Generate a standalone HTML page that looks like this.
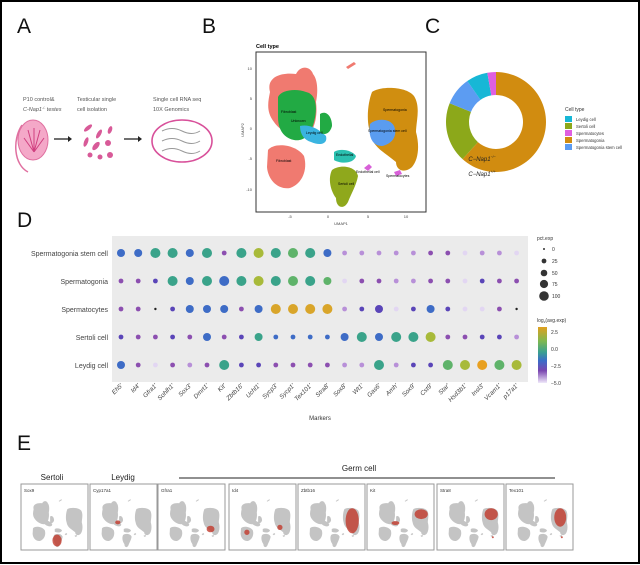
<!DOCTYPE html>
<html><head><meta charset="utf-8"><style>
html,body{margin:0;padding:0;background:#fff}
svg{display:block;font-family:"Liberation Sans",sans-serif}
</style></head><body>
<svg id="s" width="640" height="565" viewBox="0 0 640 565" xmlns="http://www.w3.org/2000/svg">
<rect x="1" y="1" width="638" height="562" fill="#fff" stroke="#000" stroke-width="2"/>
<defs>
<g id="umap">
 <path d="M14,40 C10,25 25,20 40,22 C45,12 55,15 57,22 C62,28 62,40 60,50 C62,65 58,80 50,85 C40,88 25,80 18,70 C10,60 12,50 14,40Z" fill="#f07a70"/>
 <path d="M22,45 C25,38 40,36 50,40 C60,42 62,55 58,70 C55,82 48,90 38,88 C28,86 22,78 22,65Z" fill="#22aa44"/>
 <path d="M44,74 C52,72 62,76 70,84 C72,92 64,94 55,90 C48,88 44,82 44,74Z" fill="#3ab4e0"/>
 <path d="M64,62 C70,58 76,64 76,74 C74,82 68,84 64,80Z" fill="#22aa44"/>
 <path d="M12,98 C18,90 40,92 48,104 C52,118 46,132 34,136 C22,138 12,128 11,115Z" fill="#f07a70"/>
 <path d="M78,100 C84,96 96,98 100,104 C98,112 84,112 78,108Z" fill="#2bc0b0"/>
 <path d="M76,118 C84,112 100,114 102,124 C100,134 96,140 92,150 C88,158 80,156 80,146 C74,138 72,126 76,118Z" fill="#8fa81c"/>
 <path d="M116,40 C124,34 150,34 158,44 C165,55 160,70 160,80 C164,95 162,108 156,115 C148,122 140,118 140,110 C128,100 116,95 114,80 C110,68 112,50 116,40Z" fill="#d08e10"/>
 <path d="M114,72 C120,66 134,66 138,74 C142,84 136,92 126,94 C116,94 112,84 114,72Z" fill="#5a9cf0"/>
 <path d="M108,116 l5,-4 l3,3 l-4,4Z M138,120 l6,-2 l2,4 l-6,2Z" fill="#d860d8"/>
 <path d="M90,15 l8,-5 l2,2 l-8,5Z" fill="#f07a70"/>
</g>
<g id="mini">
 <path d="M14,40 C10,25 25,20 40,22 C45,12 55,15 57,22 C62,28 62,40 60,50 C62,65 58,80 50,85 C40,88 25,80 18,70 C10,60 12,50 14,40Z M44,74 C52,72 62,76 70,84 C72,92 64,94 55,90 C48,88 44,82 44,74Z M64,62 C70,58 76,64 76,74 C74,82 68,84 64,80Z M12,98 C18,90 40,92 48,104 C52,118 46,132 34,136 C22,138 12,128 11,115Z M78,100 C84,96 96,98 100,104 C98,112 84,112 78,108Z M76,118 C84,112 100,114 102,124 C100,134 96,140 92,150 C88,158 80,156 80,146 C74,138 72,126 76,118Z M116,40 C124,34 150,34 158,44 C165,55 160,70 160,80 C164,95 162,108 156,115 C148,122 140,118 140,110 C128,100 116,95 114,80 C110,68 112,50 116,40Z M108,116 l5,-4 l3,3 l-4,4Z M138,120 l6,-2 l2,4 l-6,2Z M90,15 l8,-5 l2,2 l-8,5Z" fill="#c4c4c4"/>
</g>
<linearGradient id="cb" x1="0" y1="0" x2="0" y2="1">
 <stop offset="0" stop-color="#e0a020"/><stop offset="0.25" stop-color="#7fb850"/><stop offset="0.45" stop-color="#3aa090"/><stop offset="0.6" stop-color="#3a6cc8"/><stop offset="0.78" stop-color="#7a46b0"/><stop offset="1" stop-color="#efe8fa"/>
</linearGradient>
</defs>
<g font-size="21" fill="#111">
<text x="17" y="33">A</text><text x="202" y="33">B</text><text x="425" y="33">C</text><text x="17" y="227">D</text><text x="17" y="450">E</text>
</g>
<g font-size="5.5" fill="#555">
<text x="23" y="101">P10 control&amp;</text><text x="23" y="111" font-style="italic">C-Nap1<tspan font-size="3.5" dy="-2">-/-</tspan><tspan dy="2"> testes</tspan></text>
<text x="77" y="101">Testicular single</text><text x="77" y="111">cell isolation</text>
<text x="153" y="101">Single cell RNA seq</text><text x="153" y="111">10X Genomics</text>
</g>
<g>
<ellipse cx="33" cy="140" rx="15" ry="20" fill="#f4a8c8" stroke="#e070a0"/>
<path d="M22,125 C12,140 14,165 28,172" fill="none" stroke="#e070a0" stroke-width="1.5"/>
<path d="M34,128 l0,24 M28,130 l6,22 M40,130 l-6,22 M24,138 l10,14 M44,138 l-10,14" stroke="#d04080" stroke-width="1"/>
<path d="M54,139 h15" stroke="#222" stroke-width="1.3"/><path d="M68,136 l4,3 l-4,3z" fill="#222"/>
<path d="M124,139 h15" stroke="#222" stroke-width="1.3"/><path d="M138,136 l4,3 l-4,3z" fill="#222"/>
<g fill="#d85a98">
<ellipse cx="88" cy="128" rx="5" ry="2" transform="rotate(-40 88 128)"/><ellipse cx="99" cy="134" rx="5" ry="2" transform="rotate(-60 99 134)"/><ellipse cx="110" cy="130" rx="4" ry="2" transform="rotate(-70 110 130)"/><ellipse cx="86" cy="142" rx="5" ry="2" transform="rotate(-70 86 142)"/><ellipse cx="96" cy="146" rx="5" ry="2.5" transform="rotate(-50 96 146)"/><circle cx="108" cy="143" r="3"/><circle cx="90" cy="155" r="2.5"/><circle cx="100" cy="157" r="2.5"/><circle cx="110" cy="155" r="3"/>
</g>
<ellipse cx="182" cy="141" rx="30" ry="21" fill="none" stroke="#d8509a" stroke-width="1.6"/>
<path d="M162,131 q10,-5 20,0 t18,0 M162,141 q10,-5 20,0 t18,0 M162,151 q10,-5 20,0 t18,0" fill="none" stroke="#999" stroke-width="1"/>
</g>
<text x="256" y="48" font-size="5.5" font-weight="bold">Cell type</text>
<g transform="translate(256,52)"><use href="#umap"/>
<g font-size="3.5" fill="#000"><text x="25" y="61">Fibroblast</text><text x="35" y="70">Unknown</text><text x="50" y="82">Leydig cell</text><text x="20" y="110">Fibroblast</text><text x="80" y="104">Endothelial</text><text x="82" y="133">Sertoli cell</text><text x="127" y="59">Spermatogonia</text><text x="112" y="80">Spermatogonia stem cell</text><text x="100" y="121">Endothelial cell</text><text x="130" y="125">Spermatocytes</text></g>
</g>
<rect x="256" y="52" width="170" height="160" fill="none" stroke="#333" stroke-width="1"/>
<g font-size="4" fill="#444" text-anchor="end"><text x="252" y="70">10</text><text x="252" y="100">5</text><text x="252" y="130">0</text><text x="252" y="160">-5</text><text x="252" y="191">-10</text></g>
<g font-size="4" fill="#444" text-anchor="middle"><text x="290" y="218">-5</text><text x="328" y="218">0</text><text x="368" y="218">5</text><text x="406" y="218">10</text><text x="341" y="225">UMAP1</text></g>
<text font-size="4" fill="#444" transform="translate(244,130) rotate(-90)" text-anchor="middle">UMAP2</text>
<g id="donut"></g>
<g font-size="6" font-style="italic" fill="#222" text-anchor="middle"><text x="482" y="161">C−Nap1<tspan font-size="3.5" dy="-3">−/−</tspan></text><text x="482" y="176">C−Nap1<tspan font-size="3.5" dy="-3">+/+</tspan></text></g>
<g font-size="4.2" fill="#333"><text x="565" y="111" font-size="5">Cell type</text>
<rect x="565" y="116" width="7" height="6" fill="#17b7d6"/><text x="576" y="121">Leydig cell</text>
<rect x="565" y="123" width="7" height="6" fill="#8ca81a"/><text x="576" y="128">Sertoli cell</text>
<rect x="565" y="130" width="7" height="6" fill="#df5fe0"/><text x="576" y="135">Spermatocytes</text>
<rect x="565" y="137" width="7" height="6" fill="#d18c10"/><text x="576" y="142">Spermatogonia</text>
<rect x="565" y="144" width="7" height="6" fill="#5c9cf2"/><text x="576" y="149">Spermatogonia stem cell</text></g>
<rect x="112" y="236" width="416" height="146" fill="#ebebeb"/>
<g id="dots"></g>
<g font-size="7" fill="#444" text-anchor="end">
<text x="108" y="256">Spermatogonia stem cell</text><text x="108" y="284">Spermatogonia</text><text x="108" y="312">Spermatocytes</text><text x="108" y="340">Sertoli cell</text><text x="108" y="368">Leydig cell</text></g>
<g id="xl" font-size="6.3" fill="#444" font-style="italic"></g>
<text x="320" y="420" font-size="6" fill="#333" text-anchor="middle">Markers</text>
<g font-size="5" fill="#333"><text x="537" y="240">pct.exp</text>
<circle cx="544" cy="249" r="1"/><circle cx="544" cy="261" r="2.4"/><circle cx="544" cy="273" r="3.3"/><circle cx="544" cy="284" r="4.1"/><circle cx="544" cy="296" r="4.8"/>
<text x="552" y="251">0</text><text x="552" y="263">25</text><text x="552" y="275">50</text><text x="552" y="286">75</text><text x="552" y="298">100</text>
<text x="537" y="322">log<tspan font-size="3" dy="1">2</tspan><tspan dy="-1">(avg.exp)</tspan></text>
<rect x="538" y="327" width="9" height="56" fill="url(#cb)"/>
<text x="551" y="334">2.5</text><text x="551" y="351">0.0</text><text x="551" y="368">−2.5</text><text x="551" y="385">−5.0</text></g>
<g font-size="8" fill="#222" text-anchor="middle"><text x="52" y="480">Sertoli</text><text x="123" y="480">Leydig</text><text x="359" y="471">Germ cell</text></g>
<path d="M179,478 H555" stroke="#222" stroke-width="1"/>
<g id="mini_boxes"></g>
</svg>
<script>
const NS="http://www.w3.org/2000/svg";
function el(t,a,p){const e=document.createElementNS(NS,t);for(const k in a)e.setAttribute(k,a[k]);p.appendChild(e);return e;}
const d=document.getElementById('donut');const cx=496,cy=122,R=50,r=27;
const sl=[[0,222,'#d18c10'],[222,292,'#8ca81a'],[292,325,'#5c9cf2'],[325,350,'#17b7d6'],[350,360,'#df5fe0']];
function pt(a,rr){const t=(a-90)*Math.PI/180;return [cx+rr*Math.cos(t),cy+rr*Math.sin(t)];}
sl.forEach(([a,b,c])=>{const l=b-a>180?1:0;const p1=pt(a,R),p2=pt(b,R),p3=pt(b,r),p4=pt(a,r);
el('path',{d:`M${p1}A${R},${R} 0 ${l} 1 ${p2}L${p3}A${r},${r} 0 ${l} 0 ${p4}Z`,fill:c},d);});
const C={B:'#3e6cc6',T:'#3aa38a',G:'#5fb36a',Y:'#a8ba3a',D:'#d9a52a',O:'#e8a020',P:'#8c4fb0',I:'#5a45b8',L:'#b890d8',V:'#e2d6f2',K:'#222',N:'none'};
const S={L:5,M:4,s:2.4,t:1.2};
const rows=[
"BM BM TL TL BM TL Ps TL YL TL GL TL BM Ls Ls Ls Ls Ls Ps Ps Vs Ls Ls Vs",
"Ps Ps Is TL BM TL BL TL YL TL GL TL GM Vs Ps Ps Ls Ls Ps Ps Vs Is Ps Ps",
"Ps Ps Kt Is BM BM BM Ps BM DL DL DL DL Ls Is IM Vs Is BM Is Vs Vs Ps Kt",
"Is Ps Ps Is Ps BM Ps Is TM Bs Bs Bs Bs BM TL BM TL TL YL Ps Ps Is Is Ls",
"BM Ps Vs Ps Ls Ps TL Is Is Ps Ps Ps Ps Ls Ls TL Ls Is Is GL YL OL GL YL"];
const SP=17.2;
const dg=document.getElementById('dots');
rows.forEach((row,i)=>{row.split(' ').forEach((c,j)=>{el('circle',{cx:121+SP*j,cy:253+28*i,r:S[c.slice(1)],fill:C[c[0]]},dg);});});
const names=["Eh5","Id4","Gfra1","Sohlh1","Sox3","Dmrt1","Kit","Zbtb16","Uchl1","Sycp3","Sycp1","Tex101","Stra8","Sox8","Wt1","Gas6","Amh","Sox9","Cst9","Star","Hsd3b1","Insl3","Vcam1","p17a1"];
const xl=document.getElementById('xl');
names.forEach((n,j)=>{const x=123+SP*j,y=386;const t=el('text',{x:x,y:y,'text-anchor':'end',transform:`rotate(-45 ${x} ${y})`},xl);t.textContent=n+"'";});
const mb=document.getElementById('mini_boxes');
const bx=[21,90,158,229,298,367,437,506];const lab=["Sox9","Cyp17a1","Gfra1","Id4","Zbtb16","Kit","Stra8","Tex101"];
const red=[
[[85,135,14,18]],[[60,80,8,6]],[[135,100,12,10]],[[130,95,8,8],[30,110,8,8]],[[140,75,20,38]],[[140,55,20,15],[62,82,12,6]],[[140,55,20,18],[145,125,3,3]],[[140,65,18,28],[145,125,3,3]]];
bx.forEach((x,i)=>{el('rect',{x:x,y:484,width:67,height:66,fill:'#fff',stroke:'#999','stroke-width':1},mb);
const t=el('text',{x:x+3,y:492,'font-size':4.5,fill:'#333'},mb);t.textContent=lab[i];
const g=el('g',{transform:`translate(${x+8},${496}) scale(0.33)`},mb);el('use',{href:'#mini'},g);
red[i].forEach(([a,b,w,h])=>el('ellipse',{cx:a,cy:b,rx:w,ry:h,fill:'#c23a2c','fill-opacity':0.8},g));});
</script>
</body></html>
